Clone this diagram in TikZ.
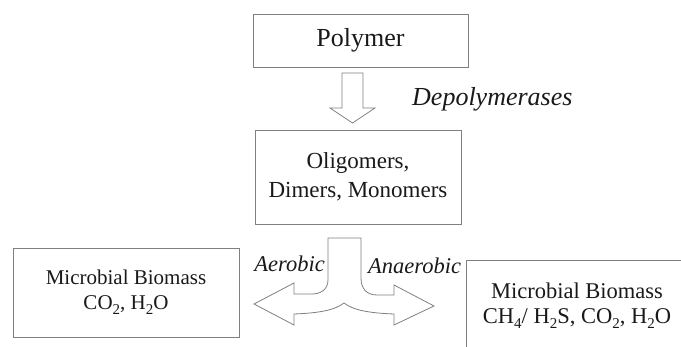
\documentclass[tikz,border=0pt]{standalone}
\usepackage{fontspec}
\setmainfont{Liberation Serif}
\newcommand\low[1]{\raisebox{-0.5ex}{\fontsize{15}{15}\selectfont #1}}
\begin{document}
\begin{tikzpicture}[x=1pt,y=-1pt,
    box/.style={draw=black!50, line width=0.8pt, inner sep=0pt, align=center, text=black!90},
    tag/.style={inner sep=0pt, text=black!90, font=\itshape\fontsize{22.5}{26}\selectfont},
    blockarrow/.style={draw=black!50, line width=0.8pt, fill=white, line join=miter}]

  \useasboundingbox (0,0) rectangle (681,347);
  \clip (0,0) rectangle (681,347);

  \node[box, minimum width=215pt, minimum height=53pt, font=\fontsize{26}{30}\selectfont] (polymer) at (360.5,40.5) {Polymer};
  \node[box, minimum width=206pt, minimum height=94pt, font=\fontsize{23}{29}\selectfont] (oligomers) at (358,177) {Oligomers,\\Dimers, Monomers};
  \node[box, minimum width=226pt, minimum height=89pt, font=\fontsize{21}{25}\selectfont] (aerobic) at (126,292.5) {Microbial Biomass\\CO\low{2}, H\low{2}O};
  \node[box, minimum width=222pt, minimum height=92pt, font=\fontsize{22.5}{25}\selectfont] (anaerobic) at (577,306) {Microbial Biomass\\CH\low{4}/ H\low{2}S, CO\low{2}, H\low{2}O};

  % hollow arrow between the two top boxes
  \draw[blockarrow] (342,73) -- (363,73) -- (363,108) -- (375,108) -- (352.5,123)
    -- (330,108) -- (342,108) -- cycle;
  \node[tag, font=\itshape\fontsize{26}{30}\selectfont, anchor=base west] (depoly) at (412,106) {Depolymerases};

  % split arrow
  \draw[blockarrow] (328,238) -- (328,280) .. controls (328,290) and (320,294) .. (312,294)
    -- (294,294) -- (294,283) -- (254,304) -- (294,325) -- (294,314)
    .. controls (320,313) and (335,310) .. (344,303)
    .. controls (353,310) and (368,313) .. (394,314)
    -- (394,325) -- (434,306) -- (394,285) -- (394,295) -- (377,295)
    .. controls (366,295) and (361,288) .. (361,278) -- (361,238) -- cycle;

  \node[tag, anchor=base east] (aerotag) at (325,272) {Aerobic};
  \node[tag, anchor=base west] (anaerotag) at (368,274) {Anaerobic};
\end{tikzpicture}
\end{document}
